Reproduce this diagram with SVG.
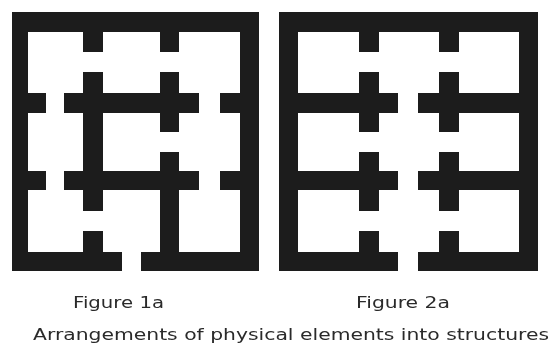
<svg xmlns="http://www.w3.org/2000/svg" width="552" height="345" viewBox="0 0 552 345">
<defs>
<filter id="b1" x="-5%" y="-5%" width="110%" height="110%"><feGaussianBlur stdDeviation="0.6"/></filter>
<filter id="b2" x="-5%" y="-20%" width="110%" height="140%"><feGaussianBlur stdDeviation="0.7"/></filter>
</defs>
<style>
.w{fill:#1a1a1a;filter:url(#b1)}
.t{font-family:"DejaVu Sans","Liberation Sans",sans-serif;fill:#2a2a2a;font-size:16px;filter:url(#b2)}
</style>
<rect width="552" height="345" fill="#fff"/>
<g id="figure-1a" class="w">
<path d="M12 12H259V271H141V252H160V152H179V171H199V190H179V252H240V190H220V171H240V113H220V93H240V32H179V52H160V32H103V52H83V32H28V93H46V113H28V171H46V190H28V252H83V231H103V252H122V271H12Z"/>
<path d="M83 72H103V93H160V72H179V93H199V113H179V132H160V113H103V171H160V190H103V211H83V190H64V171H83V113H64V93H83Z"/>
</g>
<g id="figure-2a" class="w">
<path d="M279 12H538V271H418V252H439V231H459V252H519V190H459V211H439V190H418V171H439V152H459V171H519V113H459V132H439V113H418V93H439V72H459V93H519V32H459V52H439V32H379V52H359V32H298V93H359V72H379V93H398V113H379V132H359V113H298V171H359V152H379V171H398V190H379V211H359V190H298V252H359V231H379V252H398V271H279Z"/>
</g>
<g id="captions" class="t">
<text x="73" y="308" textLength="91" lengthAdjust="spacingAndGlyphs">Figure 1a</text>
<text x="356" y="308" textLength="94" lengthAdjust="spacingAndGlyphs">Figure 2a</text>
<text x="33" y="340" textLength="516" lengthAdjust="spacingAndGlyphs">Arrangements of physical elements into structures</text>
</g>
<g id="connectors"/>
</svg>
